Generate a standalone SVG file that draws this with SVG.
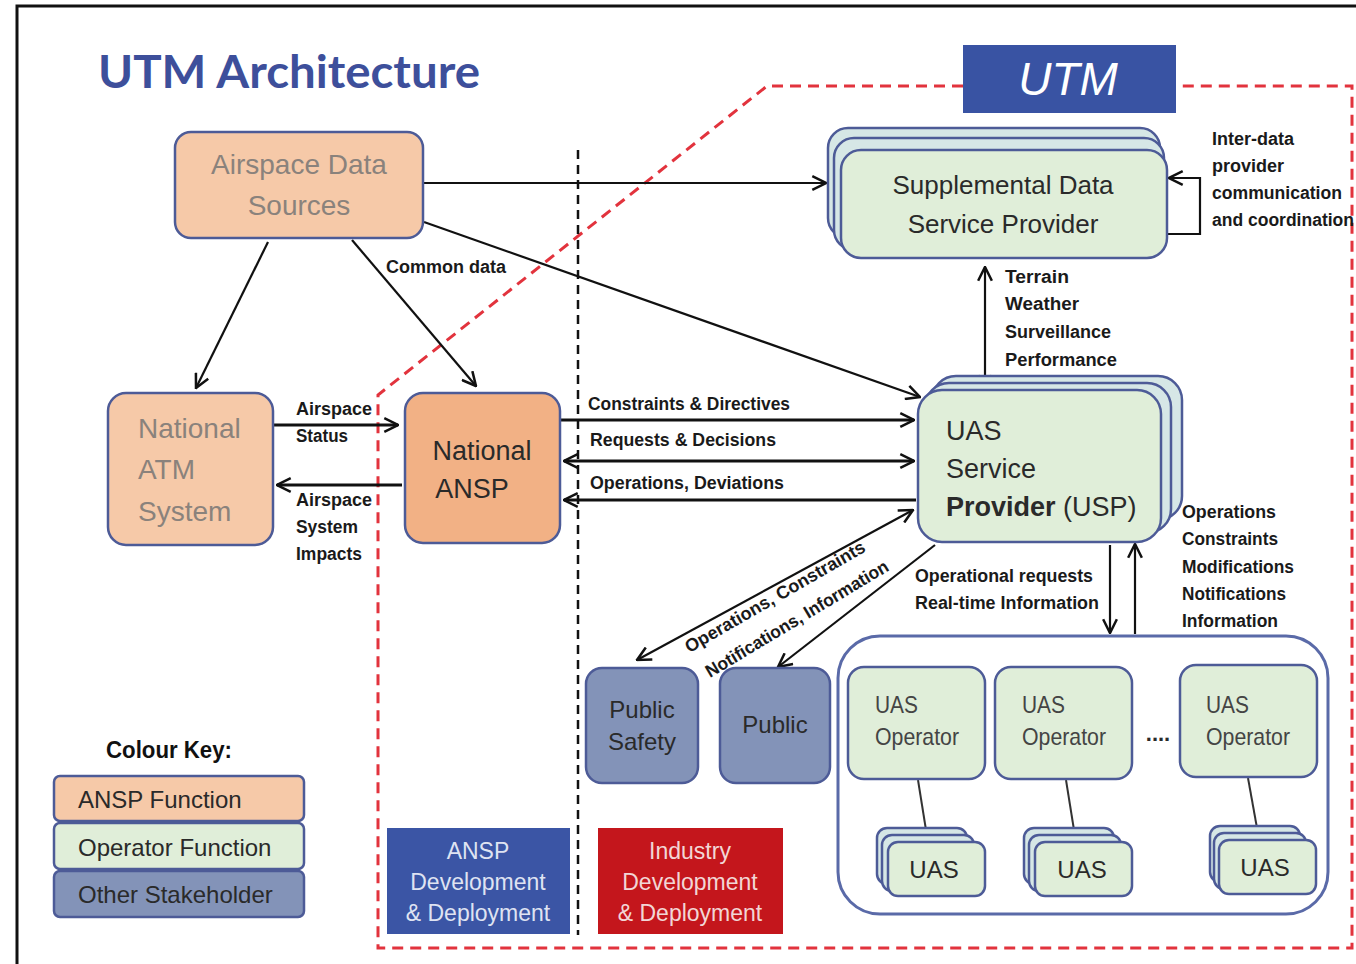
<svg xmlns="http://www.w3.org/2000/svg" width="1356" height="964" viewBox="0 0 1356 964">
<style>
.node{stroke:#4d5b97;stroke-width:2.5}
.peach{fill:#f6c9a8}
.orange{fill:#f2b185}
.green{fill:#e0eed9}
.green2{fill:#d6e7e6}
.slate{fill:#8393b8}
.t{font-family:"Liberation Sans",Arial,sans-serif}
.gray{fill:#8a827c}
.dark{fill:#2a2a2a}
.lbl{font-family:"Liberation Sans",Arial,sans-serif;font-weight:bold;font-size:18px;fill:#1a1a1a}
.conn{stroke:#111;stroke-width:2.2;fill:none}
.thick{stroke:#111;stroke-width:3.2;fill:none}
.red{stroke:#e2333d;stroke-width:3;fill:none;stroke-dasharray:11 7}
.tie{stroke:#333;stroke-width:2}
</style>
<defs>
<marker id="ah" viewBox="0 0 14 14" refX="13" refY="7" markerWidth="16" markerHeight="16" markerUnits="userSpaceOnUse" orient="auto-start-reverse">
<path d="M1,1 L13,7 L1,13" fill="none" stroke="#111" stroke-width="2.2"/>
</marker>
</defs>
<rect x="0" y="0" width="1356" height="964" fill="#fff"/>
<rect x="17" y="6" width="1400" height="1000" fill="none" stroke="#111" stroke-width="3"/>

<text x="98" y="88" font-family="Lato,'Open Sans',sans-serif" font-weight="bold" font-size="46" fill="#3d4f9b" textLength="382" lengthAdjust="spacingAndGlyphs">UTM Architecture</text>

<g id="boundaries">
<path class="red" d="M963,86 L767,86 L378,395 L378,948 L1352,948 L1352,86 L1176,86"/>
<line x1="578" y1="150" x2="578" y2="935" stroke="#111" stroke-width="2.5" stroke-dasharray="9 6"/>
</g>

<g id="utm-label">
<rect x="963" y="45" width="213" height="68" fill="#3953a3"/>
<text x="1068" y="95" class="t" font-size="46" font-style="italic" fill="#fff" text-anchor="middle">UTM</text>
</g>

<g id="operators-container">
<rect x="838" y="636" width="490" height="278" rx="42" fill="#fff" stroke="#5a6aa8" stroke-width="3"/>
<text class="t dark" x="1158" y="741" font-size="22" font-weight="bold" text-anchor="middle">....</text>
</g>

<g id="connectors">
<line class="conn" x1="424" y1="183" x2="826" y2="183" marker-end="url(#ah)"/>
<line class="conn" x1="424" y1="222" x2="920" y2="397" marker-end="url(#ah)"/>
<line class="conn" x1="268" y1="242" x2="196" y2="388" marker-end="url(#ah)"/>
<line class="conn" x1="352" y1="240" x2="476" y2="386" marker-end="url(#ah)"/>
<line class="thick" x1="274" y1="425" x2="398" y2="425" marker-end="url(#ah)"/>
<line class="thick" x1="402" y1="485" x2="277" y2="485" marker-end="url(#ah)"/>
<line class="thick" x1="561" y1="420" x2="914" y2="420" marker-end="url(#ah)"/>
<line class="thick" x1="564" y1="461" x2="914" y2="461" marker-start="url(#ah)" marker-end="url(#ah)"/>
<line class="thick" x1="916" y1="500" x2="564" y2="500" marker-end="url(#ah)"/>
<line class="conn" x1="985" y1="267" x2="985" y2="389" marker-start="url(#ah)" marker-end="url(#ah)"/>
<path class="conn" d="M1167,234 L1200,234 L1200,178 L1169,178" marker-end="url(#ah)"/>
<line class="conn" x1="637" y1="660" x2="913" y2="510" marker-start="url(#ah)" marker-end="url(#ah)"/>
<line class="conn" x1="935" y1="545" x2="778" y2="667" marker-end="url(#ah)"/>
<line class="conn" x1="1110" y1="545" x2="1110" y2="633" marker-end="url(#ah)"/>
<line class="conn" x1="1135" y1="634" x2="1135" y2="544" marker-end="url(#ah)"/>
<line class="tie" x1="918" y1="780" x2="926" y2="830"/>
<line class="tie" x1="1066" y1="780" x2="1074" y2="830"/>
<line class="tie" x1="1248" y1="778" x2="1257" y2="828"/>
</g>

<g id="connector-labels">
<text class="lbl" x="386" y="273" textLength="120" lengthAdjust="spacingAndGlyphs">Common data</text>
<text class="lbl" x="296" y="415" textLength="76" lengthAdjust="spacingAndGlyphs">Airspace</text>
<text class="lbl" x="296" y="442" textLength="52" lengthAdjust="spacingAndGlyphs">Status</text>
<text class="lbl" x="296" y="506" textLength="76" lengthAdjust="spacingAndGlyphs">Airspace</text>
<text class="lbl" x="296" y="533" textLength="62" lengthAdjust="spacingAndGlyphs">System</text>
<text class="lbl" x="296" y="560" textLength="66" lengthAdjust="spacingAndGlyphs">Impacts</text>
<text class="lbl" x="588" y="410" textLength="202" lengthAdjust="spacingAndGlyphs">Constraints &amp; Directives</text>
<text class="lbl" x="590" y="446" textLength="186" lengthAdjust="spacingAndGlyphs">Requests &amp; Decisions</text>
<text class="lbl" x="590" y="489" textLength="194" lengthAdjust="spacingAndGlyphs">Operations, Deviations</text>
<text class="lbl" x="1005" y="283" textLength="64" lengthAdjust="spacingAndGlyphs">Terrain</text>
<text class="lbl" x="1005" y="310" textLength="74" lengthAdjust="spacingAndGlyphs">Weather</text>
<text class="lbl" x="1005" y="338" textLength="106" lengthAdjust="spacingAndGlyphs">Surveillance</text>
<text class="lbl" x="1005" y="366" textLength="112" lengthAdjust="spacingAndGlyphs">Performance</text>
<text class="lbl" x="1212" y="145" textLength="82" lengthAdjust="spacingAndGlyphs">Inter-data</text>
<text class="lbl" x="1212" y="172" textLength="72" lengthAdjust="spacingAndGlyphs">provider</text>
<text class="lbl" x="1212" y="199" textLength="130" lengthAdjust="spacingAndGlyphs">communication</text>
<text class="lbl" x="1212" y="226" textLength="142" lengthAdjust="spacingAndGlyphs">and coordination</text>
<text class="lbl" x="915" y="582" textLength="178" lengthAdjust="spacingAndGlyphs">Operational requests</text>
<text class="lbl" x="915" y="609" textLength="184" lengthAdjust="spacingAndGlyphs">Real-time Information</text>
<text class="lbl" x="1182" y="518" textLength="94" lengthAdjust="spacingAndGlyphs">Operations</text>
<text class="lbl" x="1182" y="545" textLength="96" lengthAdjust="spacingAndGlyphs">Constraints</text>
<text class="lbl" x="1182" y="573" textLength="112" lengthAdjust="spacingAndGlyphs">Modifications</text>
<text class="lbl" x="1182" y="600" textLength="104" lengthAdjust="spacingAndGlyphs">Notifications</text>
<text class="lbl" x="1182" y="627" textLength="96" lengthAdjust="spacingAndGlyphs">Information</text>
<text class="lbl" text-anchor="middle" transform="translate(778,602) rotate(-30)" textLength="205" lengthAdjust="spacingAndGlyphs">Operations, Constraints</text>
<text class="lbl" text-anchor="middle" transform="translate(800,624) rotate(-31)" textLength="210" lengthAdjust="spacingAndGlyphs">Notifications, Information</text>
</g>

<g id="airspace-data-sources">
<rect class="node peach" x="175" y="132" width="248" height="106" rx="16"/>
<text class="t gray" x="299" y="174" font-size="28" text-anchor="middle">Airspace  Data</text>
<text class="t gray" x="299" y="215" font-size="28" text-anchor="middle">Sources</text>
</g>

<g id="national-atm">
<rect class="node peach" x="108" y="393" width="165" height="152" rx="18"/>
<text class="t gray" x="138" y="438" font-size="28">National</text>
<text class="t gray" x="138" y="479" font-size="28">ATM</text>
<text class="t gray" x="138" y="521" font-size="28">System</text>
</g>

<g id="national-ansp">
<rect class="node orange" x="405" y="393" width="155" height="150" rx="18"/>
<text class="t dark" x="482" y="460" font-size="27" text-anchor="middle">National</text>
<text class="t dark" x="472" y="498" font-size="27" text-anchor="middle">ANSP</text>
</g>

<g id="supplemental">
<rect class="node green2" x="828" y="128" width="332" height="110" rx="20"/>
<rect class="node green2" x="834" y="138" width="330" height="112" rx="20"/>
<rect class="node green" x="841" y="150" width="326" height="108" rx="20"/>
<text class="t dark" x="1003" y="194" font-size="26" text-anchor="middle">Supplemental  Data</text>
<text class="t dark" x="1003" y="233" font-size="26" text-anchor="middle">Service  Provider</text>
</g>

<g id="usp">
<rect class="node green2" x="932" y="376" width="250" height="144" rx="24"/>
<rect class="node green2" x="925" y="383" width="246" height="150" rx="24"/>
<rect class="node green" x="918" y="390" width="243" height="152" rx="24"/>
<text class="t dark" x="946" y="440" font-size="27">UAS</text>
<text class="t dark" x="946" y="478" font-size="27">Service</text>
<text class="t dark" x="946" y="516" font-size="27"><tspan font-weight="bold">Provider</tspan> (USP)</text>
</g>

<g id="public-safety">
<rect class="node slate" x="586" y="668" width="112" height="115" rx="16"/>
<text class="t dark" x="642" y="718" font-size="24" text-anchor="middle">Public</text>
<text class="t dark" x="642" y="750" font-size="24" text-anchor="middle">Safety</text>
</g>

<g id="public">
<rect class="node slate" x="720" y="668" width="110" height="115" rx="16"/>
<text class="t dark" x="775" y="733" font-size="24" text-anchor="middle">Public</text>
</g>

<g id="operator-1">
<rect class="node green" x="848" y="667" width="137" height="112" rx="16"/>
<text class="t" fill="#444" x="875" y="713" font-size="24" textLength="43" lengthAdjust="spacingAndGlyphs">UAS</text>
<text class="t" fill="#444" x="875" y="745" font-size="24" textLength="84" lengthAdjust="spacingAndGlyphs">Operator</text>
</g>
<g id="operator-2">
<rect class="node green" x="995" y="667" width="137" height="112" rx="16"/>
<text class="t" fill="#444" x="1022" y="713" font-size="24" textLength="43" lengthAdjust="spacingAndGlyphs">UAS</text>
<text class="t" fill="#444" x="1022" y="745" font-size="24" textLength="84" lengthAdjust="spacingAndGlyphs">Operator</text>
</g>
<g id="operator-3">
<rect class="node green" x="1180" y="665" width="137" height="112" rx="16"/>
<text class="t" fill="#444" x="1206" y="713" font-size="24" textLength="43" lengthAdjust="spacingAndGlyphs">UAS</text>
<text class="t" fill="#444" x="1206" y="745" font-size="24" textLength="84" lengthAdjust="spacingAndGlyphs">Operator</text>
</g>

<g id="uas-1">
<rect class="node green2" x="877" y="828" width="90" height="56" rx="10"/>
<rect class="node green2" x="882" y="835" width="92" height="56" rx="10"/>
<rect class="node green" x="888" y="842" width="97" height="54" rx="10"/>
<text class="t dark" x="934" y="878" font-size="24" text-anchor="middle">UAS</text>
</g>
<g id="uas-2">
<rect class="node green2" x="1024" y="828" width="90" height="56" rx="10"/>
<rect class="node green2" x="1029" y="835" width="92" height="56" rx="10"/>
<rect class="node green" x="1035" y="842" width="97" height="54" rx="10"/>
<text class="t dark" x="1082" y="878" font-size="24" text-anchor="middle">UAS</text>
</g>
<g id="uas-3">
<rect class="node green2" x="1210" y="826" width="90" height="56" rx="10"/>
<rect class="node green2" x="1214" y="833" width="92" height="56" rx="10"/>
<rect class="node green" x="1219" y="840" width="97" height="54" rx="10"/>
<text class="t dark" x="1265" y="876" font-size="24" text-anchor="middle">UAS</text>
</g>

<g id="colour-key">
<text class="t" x="106" y="758" font-size="24" font-weight="bold" fill="#111" textLength="126" lengthAdjust="spacingAndGlyphs">Colour Key:</text>
<rect class="node peach" x="54" y="776" width="250" height="45" rx="6"/>
<text class="t dark" x="78" y="808" font-size="24">ANSP Function</text>
<rect class="node green" x="54" y="823" width="250" height="46" rx="6"/>
<text class="t dark" x="78" y="856" font-size="24">Operator Function</text>
<rect class="node slate" x="54" y="871" width="250" height="46" rx="6"/>
<text class="t dark" x="78" y="903" font-size="24">Other Stakeholder</text>
</g>

<g id="ansp-dev">
<rect x="387" y="828" width="183" height="106" fill="#3b55a5"/>
<text class="t" fill="#dfe3f2" x="478" y="859" font-size="23" text-anchor="middle">ANSP</text>
<text class="t" fill="#dfe3f2" x="478" y="890" font-size="23" text-anchor="middle">Development</text>
<text class="t" fill="#dfe3f2" x="478" y="921" font-size="23" text-anchor="middle">&amp; Deployment</text>
</g>

<g id="industry-dev">
<rect x="598" y="828" width="185" height="106" fill="#c4161c"/>
<text class="t" fill="#f2d6d6" x="690" y="859" font-size="23" text-anchor="middle">Industry</text>
<text class="t" fill="#f2d6d6" x="690" y="890" font-size="23" text-anchor="middle">Development</text>
<text class="t" fill="#f2d6d6" x="690" y="921" font-size="23" text-anchor="middle">&amp; Deployment</text>
</g>
</svg>
